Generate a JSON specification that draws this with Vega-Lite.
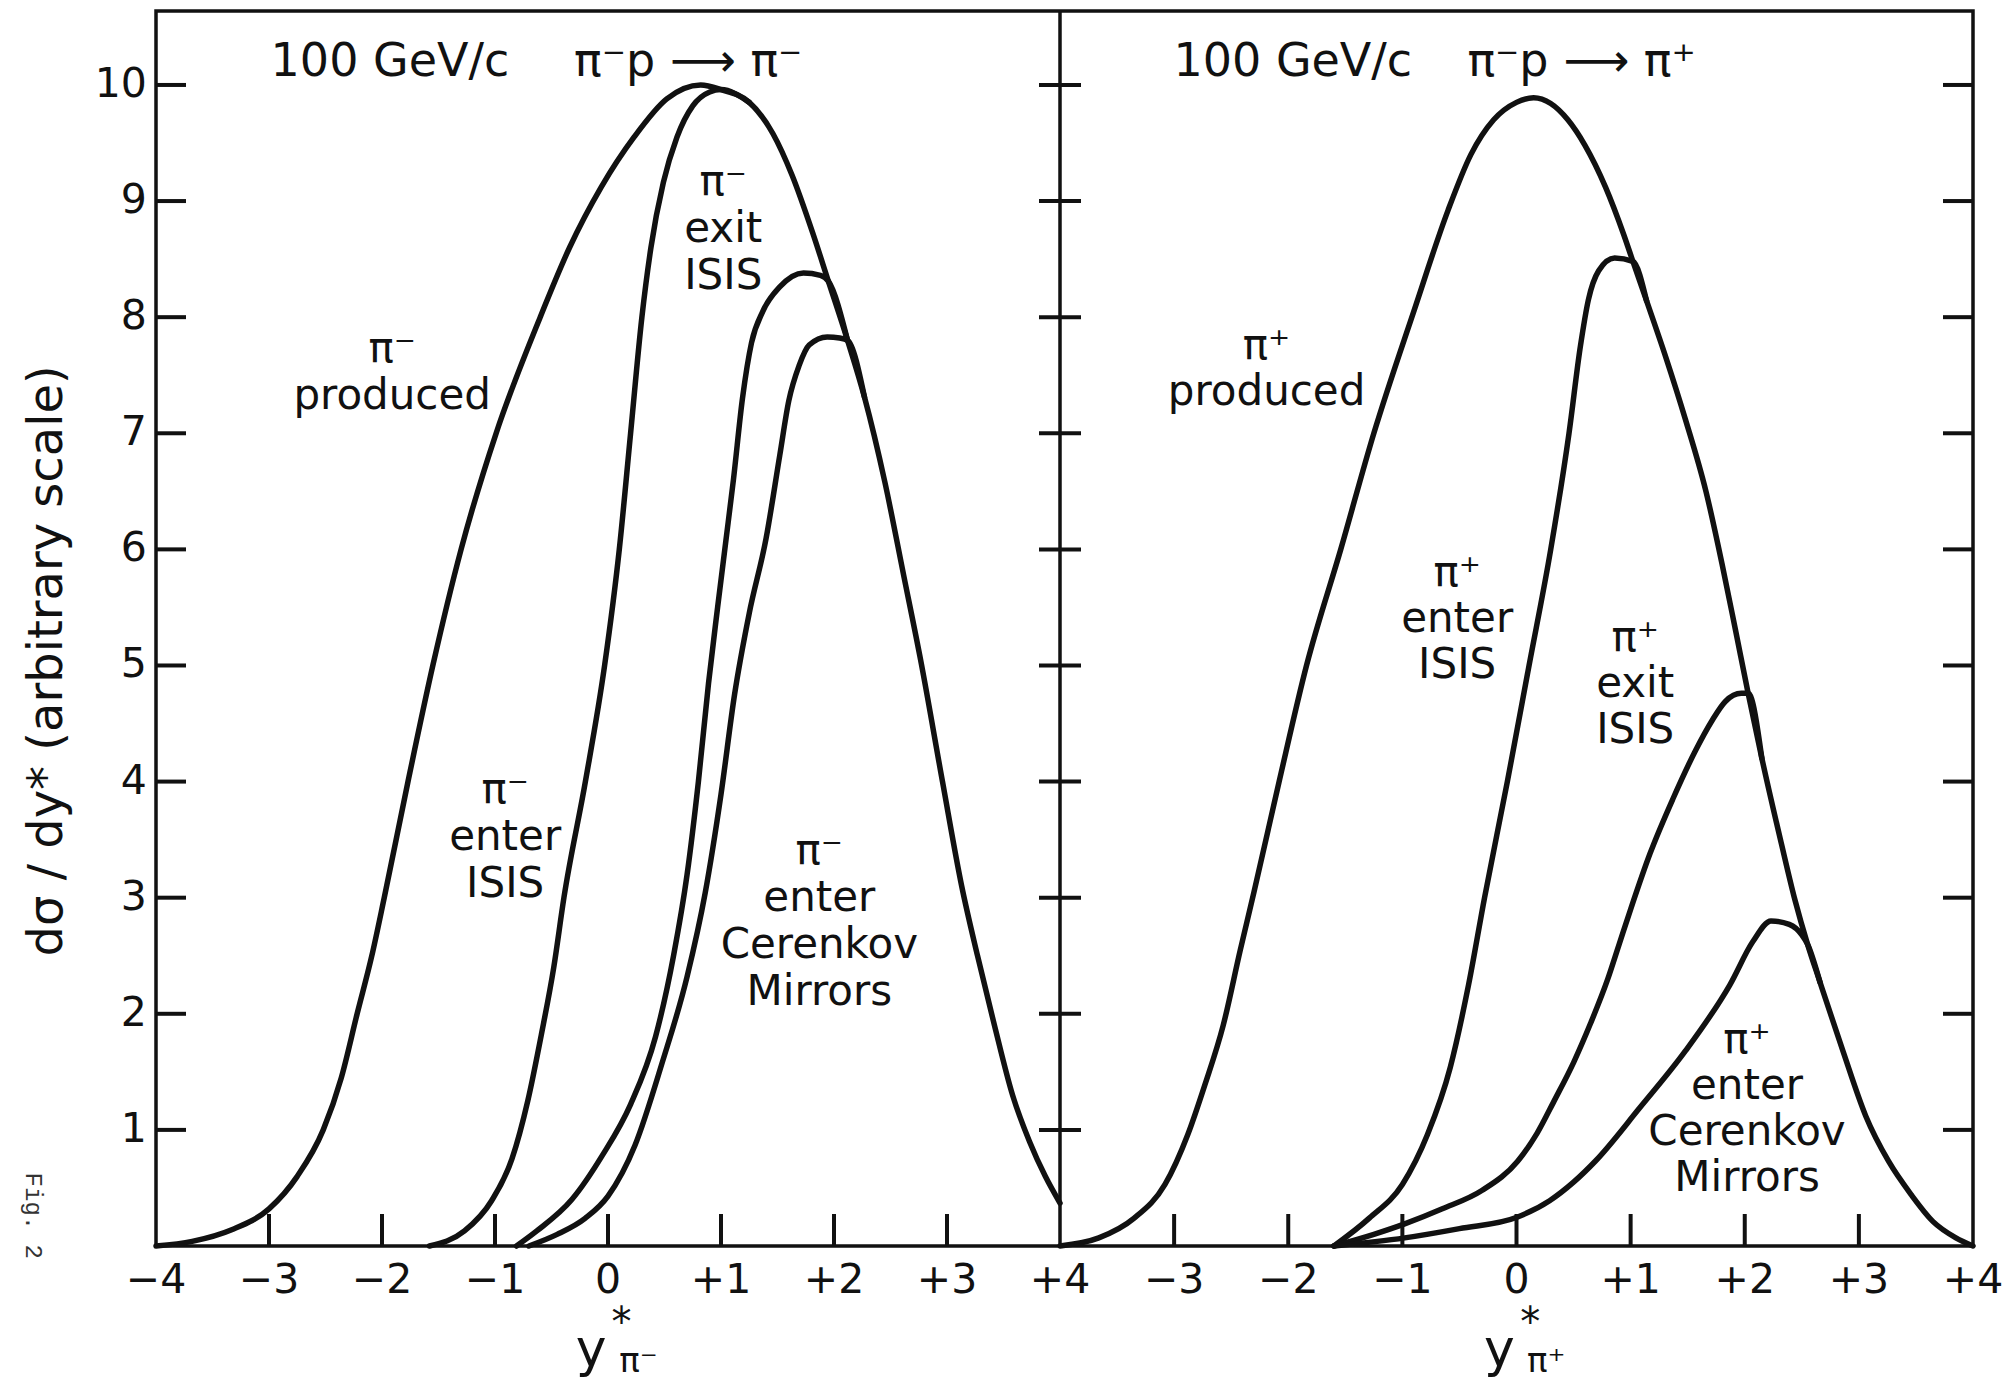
{
  "$schema": "https://vega.github.io/schema/vega-lite/v6.json",
  "width": 1817,
  "height": 1235,
  "autosize": {"type": "none"},
  "padding": {"left": 156, "top": 11, "right": 36, "bottom": 141},
  "background": "white",
  "config": {
    "view": {"stroke": "#111", "strokeWidth": 3.5},
    "text": {"font": "DejaVu Sans", "color": "#111"}
  },
  "datasets": {
    "curvesL": [
      {"curve": "produced", "x": -4.0, "y": 0.0}, {"curve": "produced", "x": -3.68, "y": 0.04}, {"curve": "produced", "x": -3.33, "y": 0.14}, {"curve": "produced", "x": -3.0, "y": 0.32}, {"curve": "produced", "x": -2.75, "y": 0.6}, {"curve": "produced", "x": -2.52, "y": 1.0}, {"curve": "produced", "x": -2.36, "y": 1.45}, {"curve": "produced", "x": -2.22, "y": 2.0}, {"curve": "produced", "x": -2.09, "y": 2.5}, {"curve": "produced", "x": -1.98, "y": 3.0}, {"curve": "produced", "x": -1.77, "y": 4.0}, {"curve": "produced", "x": -1.55, "y": 5.0}, {"curve": "produced", "x": -1.3, "y": 6.0}, {"curve": "produced", "x": -0.99, "y": 7.0}, {"curve": "produced", "x": -0.6, "y": 8.0}, {"curve": "produced", "x": -0.34, "y": 8.6}, {"curve": "produced", "x": -0.06, "y": 9.12}, {"curve": "produced", "x": 0.23, "y": 9.55}, {"curve": "produced", "x": 0.52, "y": 9.88}, {"curve": "produced", "x": 0.82, "y": 10.0}, {"curve": "produced", "x": 1.0, "y": 9.96}, {"curve": "produced", "x": 1.25, "y": 9.85}, {"curve": "produced", "x": 1.46, "y": 9.58}, {"curve": "produced", "x": 1.63, "y": 9.22}, {"curve": "produced", "x": 1.81, "y": 8.73}, {"curve": "produced", "x": 1.95, "y": 8.31}, {"curve": "produced", "x": 2.12, "y": 7.8}, {"curve": "produced", "x": 2.27, "y": 7.31}, {"curve": "produced", "x": 2.45, "y": 6.58}, {"curve": "produced", "x": 2.62, "y": 5.76}, {"curve": "produced", "x": 2.77, "y": 5.03}, {"curve": "produced", "x": 2.96, "y": 4.0}, {"curve": "produced", "x": 3.13, "y": 3.1}, {"curve": "produced", "x": 3.27, "y": 2.5}, {"curve": "produced", "x": 3.42, "y": 1.9}, {"curve": "produced", "x": 3.58, "y": 1.3}, {"curve": "produced", "x": 3.73, "y": 0.9}, {"curve": "produced", "x": 3.87, "y": 0.6}, {"curve": "produced", "x": 4.0, "y": 0.37},
      {"curve": "enterISIS", "x": -1.58, "y": 0.0}, {"curve": "enterISIS", "x": -1.27, "y": 0.13}, {"curve": "enterISIS", "x": -1.03, "y": 0.39}, {"curve": "enterISIS", "x": -0.85, "y": 0.75}, {"curve": "enterISIS", "x": -0.71, "y": 1.25}, {"curve": "enterISIS", "x": -0.59, "y": 1.82}, {"curve": "enterISIS", "x": -0.48, "y": 2.4}, {"curve": "enterISIS", "x": -0.39, "y": 3.0}, {"curve": "enterISIS", "x": -0.2, "y": 4.0}, {"curve": "enterISIS", "x": -0.03, "y": 5.0}, {"curve": "enterISIS", "x": 0.1, "y": 6.0}, {"curve": "enterISIS", "x": 0.2, "y": 7.0}, {"curve": "enterISIS", "x": 0.3, "y": 8.0}, {"curve": "enterISIS", "x": 0.38, "y": 8.6}, {"curve": "enterISIS", "x": 0.49, "y": 9.16}, {"curve": "enterISIS", "x": 0.61, "y": 9.55}, {"curve": "enterISIS", "x": 0.75, "y": 9.82}, {"curve": "enterISIS", "x": 0.9, "y": 9.94}, {"curve": "enterISIS", "x": 1.0, "y": 9.96}, {"curve": "enterISIS", "x": 1.25, "y": 9.85},
      {"curve": "exitISIS", "x": -0.81, "y": 0.0}, {"curve": "exitISIS", "x": -0.63, "y": 0.13}, {"curve": "exitISIS", "x": -0.32, "y": 0.4}, {"curve": "exitISIS", "x": -0.05, "y": 0.78}, {"curve": "exitISIS", "x": 0.2, "y": 1.22}, {"curve": "exitISIS", "x": 0.42, "y": 1.8}, {"curve": "exitISIS", "x": 0.58, "y": 2.5}, {"curve": "exitISIS", "x": 0.7, "y": 3.2}, {"curve": "exitISIS", "x": 0.8, "y": 4.0}, {"curve": "exitISIS", "x": 0.89, "y": 4.85}, {"curve": "exitISIS", "x": 0.97, "y": 5.5}, {"curve": "exitISIS", "x": 1.04, "y": 6.05}, {"curve": "exitISIS", "x": 1.11, "y": 6.6}, {"curve": "exitISIS", "x": 1.19, "y": 7.3}, {"curve": "exitISIS", "x": 1.27, "y": 7.78}, {"curve": "exitISIS", "x": 1.37, "y": 8.05}, {"curve": "exitISIS", "x": 1.52, "y": 8.26}, {"curve": "exitISIS", "x": 1.73, "y": 8.38}, {"curve": "exitISIS", "x": 1.88, "y": 8.36}, {"curve": "exitISIS", "x": 1.95, "y": 8.31}, {"curve": "exitISIS", "x": 2.12, "y": 7.8},
      {"curve": "cerenkov", "x": -0.7, "y": 0.0}, {"curve": "cerenkov", "x": -0.45, "y": 0.1}, {"curve": "cerenkov", "x": -0.2, "y": 0.24}, {"curve": "cerenkov", "x": 0.0, "y": 0.43}, {"curve": "cerenkov", "x": 0.24, "y": 0.87}, {"curve": "cerenkov", "x": 0.48, "y": 1.58}, {"curve": "cerenkov", "x": 0.7, "y": 2.32}, {"curve": "cerenkov", "x": 0.86, "y": 3.04}, {"curve": "cerenkov", "x": 1.0, "y": 3.89}, {"curve": "cerenkov", "x": 1.12, "y": 4.75}, {"curve": "cerenkov", "x": 1.25, "y": 5.45}, {"curve": "cerenkov", "x": 1.4, "y": 6.1}, {"curve": "cerenkov", "x": 1.52, "y": 6.81}, {"curve": "cerenkov", "x": 1.6, "y": 7.28}, {"curve": "cerenkov", "x": 1.69, "y": 7.58}, {"curve": "cerenkov", "x": 1.78, "y": 7.76}, {"curve": "cerenkov", "x": 1.94, "y": 7.83}, {"curve": "cerenkov", "x": 2.05, "y": 7.82}, {"curve": "cerenkov", "x": 2.12, "y": 7.8}, {"curve": "cerenkov", "x": 2.27, "y": 7.31}
    ],
    "curvesR": [
      {"curve": "produced", "x": -4.0, "y": 0.0}, {"curve": "produced", "x": -3.66, "y": 0.07}, {"curve": "produced", "x": -3.35, "y": 0.24}, {"curve": "produced", "x": -3.08, "y": 0.53}, {"curve": "produced", "x": -2.88, "y": 0.96}, {"curve": "produced", "x": -2.73, "y": 1.39}, {"curve": "produced", "x": -2.57, "y": 1.9}, {"curve": "produced", "x": -2.42, "y": 2.55}, {"curve": "produced", "x": -2.3, "y": 3.05}, {"curve": "produced", "x": -2.08, "y": 4.0}, {"curve": "produced", "x": -1.84, "y": 5.0}, {"curve": "produced", "x": -1.54, "y": 6.0}, {"curve": "produced", "x": -1.25, "y": 7.0}, {"curve": "produced", "x": -0.9, "y": 8.05}, {"curve": "produced", "x": -0.6, "y": 8.92}, {"curve": "produced", "x": -0.4, "y": 9.4}, {"curve": "produced", "x": -0.2, "y": 9.7}, {"curve": "produced", "x": 0.0, "y": 9.85}, {"curve": "produced", "x": 0.15, "y": 9.89}, {"curve": "produced", "x": 0.3, "y": 9.84}, {"curve": "produced", "x": 0.45, "y": 9.7}, {"curve": "produced", "x": 0.6, "y": 9.48}, {"curve": "produced", "x": 0.78, "y": 9.12}, {"curve": "produced", "x": 0.94, "y": 8.71}, {"curve": "produced", "x": 1.02, "y": 8.48}, {"curve": "produced", "x": 1.14, "y": 8.14}, {"curve": "produced", "x": 1.31, "y": 7.65}, {"curve": "produced", "x": 1.48, "y": 7.12}, {"curve": "produced", "x": 1.66, "y": 6.5}, {"curve": "produced", "x": 1.8, "y": 5.88}, {"curve": "produced", "x": 1.92, "y": 5.3}, {"curve": "produced", "x": 2.03, "y": 4.76}, {"curve": "produced", "x": 2.15, "y": 4.2}, {"curve": "produced", "x": 2.32, "y": 3.47}, {"curve": "produced", "x": 2.44, "y": 2.98}, {"curve": "produced", "x": 2.55, "y": 2.6}, {"curve": "produced", "x": 2.66, "y": 2.27}, {"curve": "produced", "x": 2.86, "y": 1.68}, {"curve": "produced", "x": 3.06, "y": 1.12}, {"curve": "produced", "x": 3.26, "y": 0.73}, {"curve": "produced", "x": 3.46, "y": 0.44}, {"curve": "produced", "x": 3.65, "y": 0.21}, {"curve": "produced", "x": 3.85, "y": 0.07}, {"curve": "produced", "x": 4.0, "y": 0.0},
      {"curve": "enterISIS", "x": -1.6, "y": 0.0}, {"curve": "enterISIS", "x": -1.29, "y": 0.24}, {"curve": "enterISIS", "x": -1.0, "y": 0.53}, {"curve": "enterISIS", "x": -0.78, "y": 0.96}, {"curve": "enterISIS", "x": -0.58, "y": 1.54}, {"curve": "enterISIS", "x": -0.42, "y": 2.25}, {"curve": "enterISIS", "x": -0.28, "y": 3.0}, {"curve": "enterISIS", "x": -0.08, "y": 4.0}, {"curve": "enterISIS", "x": 0.11, "y": 5.0}, {"curve": "enterISIS", "x": 0.3, "y": 6.0}, {"curve": "enterISIS", "x": 0.46, "y": 7.0}, {"curve": "enterISIS", "x": 0.56, "y": 7.75}, {"curve": "enterISIS", "x": 0.63, "y": 8.15}, {"curve": "enterISIS", "x": 0.72, "y": 8.4}, {"curve": "enterISIS", "x": 0.86, "y": 8.51}, {"curve": "enterISIS", "x": 1.02, "y": 8.48}, {"curve": "enterISIS", "x": 1.14, "y": 8.14},
      {"curve": "exitISIS", "x": -1.6, "y": 0.0}, {"curve": "exitISIS", "x": -1.25, "y": 0.1}, {"curve": "exitISIS", "x": -0.98, "y": 0.19}, {"curve": "exitISIS", "x": -0.65, "y": 0.32}, {"curve": "exitISIS", "x": -0.3, "y": 0.48}, {"curve": "exitISIS", "x": 0.01, "y": 0.73}, {"curve": "exitISIS", "x": 0.18, "y": 0.97}, {"curve": "exitISIS", "x": 0.33, "y": 1.25}, {"curve": "exitISIS", "x": 0.5, "y": 1.58}, {"curve": "exitISIS", "x": 0.65, "y": 1.92}, {"curve": "exitISIS", "x": 0.8, "y": 2.3}, {"curve": "exitISIS", "x": 0.9, "y": 2.6}, {"curve": "exitISIS", "x": 1.0, "y": 2.9}, {"curve": "exitISIS", "x": 1.17, "y": 3.38}, {"curve": "exitISIS", "x": 1.37, "y": 3.85}, {"curve": "exitISIS", "x": 1.57, "y": 4.27}, {"curve": "exitISIS", "x": 1.71, "y": 4.52}, {"curve": "exitISIS", "x": 1.83, "y": 4.69}, {"curve": "exitISIS", "x": 1.97, "y": 4.76}, {"curve": "exitISIS", "x": 2.03, "y": 4.76}, {"curve": "exitISIS", "x": 2.15, "y": 4.2},
      {"curve": "cerenkov", "x": -1.6, "y": 0.0}, {"curve": "cerenkov", "x": -0.98, "y": 0.07}, {"curve": "cerenkov", "x": -0.5, "y": 0.15}, {"curve": "cerenkov", "x": 0.01, "y": 0.25}, {"curve": "cerenkov", "x": 0.29, "y": 0.39}, {"curve": "cerenkov", "x": 0.5, "y": 0.55}, {"curve": "cerenkov", "x": 0.69, "y": 0.73}, {"curve": "cerenkov", "x": 1.08, "y": 1.19}, {"curve": "cerenkov", "x": 1.48, "y": 1.68}, {"curve": "cerenkov", "x": 1.87, "y": 2.25}, {"curve": "cerenkov", "x": 2.07, "y": 2.62}, {"curve": "cerenkov", "x": 2.23, "y": 2.8}, {"curve": "cerenkov", "x": 2.39, "y": 2.77}, {"curve": "cerenkov", "x": 2.5, "y": 2.68}, {"curve": "cerenkov", "x": 2.55, "y": 2.6}, {"curve": "cerenkov", "x": 2.66, "y": 2.27}
    ],
    "yticks": [{"y": 1, "label": "1"}, {"y": 2, "label": "2"}, {"y": 3, "label": "3"}, {"y": 4, "label": "4"}, {"y": 5, "label": "5"}, {"y": 6, "label": "6"}, {"y": 7, "label": "7"}, {"y": 8, "label": "8"}, {"y": 9, "label": "9"}, {"y": 10, "label": "10"}],
    "xticks": [{"x": -3}, {"x": -2}, {"x": -1}, {"x": 0}, {"x": 1}, {"x": 2}, {"x": 3}],
    "xlabL": [{"x": -4, "label": "−4"}, {"x": -3, "label": "−3"}, {"x": -2, "label": "−2"}, {"x": -1, "label": "−1"}, {"x": 0, "label": "0"}, {"x": 1, "label": "+1"}, {"x": 2, "label": "+2"}, {"x": 3, "label": "+3"}, {"x": 4, "label": "+4"}],
    "xlabR": [{"x": -3, "label": "−3"}, {"x": -2, "label": "−2"}, {"x": -1, "label": "−1"}, {"x": 0, "label": "0"}, {"x": 1, "label": "+1"}, {"x": 2, "label": "+2"}, {"x": 3, "label": "+3"}, {"x": 4, "label": "+4"}],
    "one": [{}]
  },
  "layer": [
    {
      "layer": [
        {
          "data": {"name": "curvesL"},
          "mark": {"type": "line", "interpolate": "monotone", "stroke": "#111", "strokeWidth": 5.5, "strokeCap": "round", "strokeJoin": "round"},
          "encoding": {
            "x": {"field": "x", "type": "quantitative", "scale": {"domain": [-4, 4], "range": [0, 904], "nice": false, "zero": false}, "axis": null},
            "y": {"field": "y", "type": "quantitative", "scale": {"domain": [0, 10.637], "nice": false, "zero": false}, "axis": null},
            "detail": {"field": "curve", "type": "nominal"}
          }
        },
        {
          "data": {"name": "one"},
          "mark": {"type": "rule", "stroke": "#111", "strokeWidth": 3.5},
          "encoding": {
            "x": {"datum": 4, "type": "quantitative", "scale": {"domain": [-4, 4], "range": [0, 904], "nice": false, "zero": false}, "axis": null}
          }
        },
        {
          "data": {"name": "yticks"},
          "mark": {"type": "tick", "orient": "horizontal", "size": 30, "thickness": 4, "xOffset": 15, "color": "#111", "opacity": 1},
          "encoding": {
            "x": {"datum": -4, "type": "quantitative", "scale": {"domain": [-4, 4], "range": [0, 904], "nice": false, "zero": false}, "axis": null},
            "y": {"field": "y", "type": "quantitative", "scale": {"domain": [0, 10.637], "nice": false, "zero": false}, "axis": null}
          }
        },
        {
          "data": {"name": "yticks"},
          "mark": {"type": "tick", "orient": "horizontal", "size": 42, "thickness": 4, "color": "#111", "opacity": 1},
          "encoding": {
            "x": {"datum": 4, "type": "quantitative", "scale": {"domain": [-4, 4], "range": [0, 904], "nice": false, "zero": false}, "axis": null},
            "y": {"field": "y", "type": "quantitative", "scale": {"domain": [0, 10.637], "nice": false, "zero": false}, "axis": null}
          }
        },
        {
          "data": {"name": "yticks"},
          "mark": {"type": "text", "align": "right", "baseline": "middle", "fontSize": 41, "font": "DejaVu Sans", "color": "#111"},
          "encoding": {
            "x": {"datum": -4.08, "type": "quantitative", "scale": {"domain": [-4, 4], "range": [0, 904], "nice": false, "zero": false}, "axis": null},
            "y": {"field": "y", "type": "quantitative", "scale": {"domain": [0, 10.637], "nice": false, "zero": false}, "axis": null},
            "text": {"field": "label"}
          }
        },
        {
          "data": {"name": "xticks"},
          "mark": {"type": "tick", "orient": "vertical", "size": 32, "thickness": 4, "yOffset": -16, "color": "#111", "opacity": 1},
          "encoding": {
            "x": {"field": "x", "type": "quantitative", "scale": {"domain": [-4, 4], "range": [0, 904], "nice": false, "zero": false}, "axis": null},
            "y": {"datum": 0, "type": "quantitative", "scale": {"domain": [0, 10.637], "nice": false, "zero": false}, "axis": null}
          }
        },
        {
          "data": {"name": "xlabL"},
          "mark": {"type": "text", "align": "center", "baseline": "middle", "fontSize": 41, "font": "DejaVu Sans", "color": "#111"},
          "encoding": {
            "x": {"field": "x", "type": "quantitative", "scale": {"domain": [-4, 4], "range": [0, 904], "nice": false, "zero": false}, "axis": null},
            "y": {"datum": -0.3, "type": "quantitative", "scale": {"domain": [0, 10.637], "nice": false, "zero": false}, "axis": null},
            "text": {"field": "label"}
          }
        },
        {
          "data": {"values": [{"text": "100 GeV/c", "x": -1.93, "y": 10.2}, {"text": "π⁻p ⟶ π⁻", "x": 0.71, "y": 10.2}]},
          "mark": {"type": "text", "align": "center", "baseline": "middle", "fontSize": 46, "font": "DejaVu Sans", "color": "#111"},
          "encoding": {
            "x": {"field": "x", "type": "quantitative", "scale": {"domain": [-4, 4], "range": [0, 904], "nice": false, "zero": false}, "axis": null},
            "y": {"field": "y", "type": "quantitative", "scale": {"domain": [0, 10.637], "nice": false, "zero": false}, "axis": null},
            "text": {"field": "text"}
          }
        },
        {
          "data": {"values": [
            {"text": "π⁻\nproduced", "x": -1.91, "y": 7.73},
            {"text": "π⁻\nenter\nISIS", "x": -0.91, "y": 3.93},
            {"text": "π⁻\nexit\nISIS", "x": 1.02, "y": 9.16},
            {"text": "π⁻\nenter\nCerenkov\nMirrors", "x": 1.87, "y": 3.4}
          ]},
          "mark": {"type": "text", "align": "center", "baseline": "middle", "fontSize": 42, "lineHeight": 47, "lineBreak": "\n", "font": "DejaVu Sans", "color": "#111"},
          "encoding": {
            "x": {"field": "x", "type": "quantitative", "scale": {"domain": [-4, 4], "range": [0, 904], "nice": false, "zero": false}, "axis": null},
            "y": {"field": "y", "type": "quantitative", "scale": {"domain": [0, 10.637], "nice": false, "zero": false}, "axis": null},
            "text": {"field": "text"}
          }
        },
        {
          "data": {"values": [{"text": "y", "x": -0.15, "y": -0.9}]},
          "mark": {"type": "text", "align": "center", "baseline": "middle", "fontSize": 52, "font": "DejaVu Sans", "color": "#111"},
          "encoding": {
            "x": {"field": "x", "type": "quantitative", "scale": {"domain": [-4, 4], "range": [0, 904], "nice": false, "zero": false}, "axis": null},
            "y": {"field": "y", "type": "quantitative", "scale": {"domain": [0, 10.637], "nice": false, "zero": false}, "axis": null},
            "text": {"field": "text"}
          }
        },
        {
          "data": {"values": [{"text": "*", "x": 0.12, "y": -0.672}]},
          "mark": {"type": "text", "align": "center", "baseline": "middle", "fontSize": 40, "font": "DejaVu Sans", "color": "#111"},
          "encoding": {
            "x": {"field": "x", "type": "quantitative", "scale": {"domain": [-4, 4], "range": [0, 904], "nice": false, "zero": false}, "axis": null},
            "y": {"field": "y", "type": "quantitative", "scale": {"domain": [0, 10.637], "nice": false, "zero": false}, "axis": null},
            "text": {"field": "text"}
          }
        },
        {
          "data": {"values": [{"text": "π⁻", "x": 0.27, "y": -0.999}]},
          "mark": {"type": "text", "align": "center", "baseline": "middle", "fontSize": 34, "font": "DejaVu Sans", "color": "#111"},
          "encoding": {
            "x": {"field": "x", "type": "quantitative", "scale": {"domain": [-4, 4], "range": [0, 904], "nice": false, "zero": false}, "axis": null},
            "y": {"field": "y", "type": "quantitative", "scale": {"domain": [0, 10.637], "nice": false, "zero": false}, "axis": null},
            "text": {"field": "text"}
          }
        },
        {
          "data": {"values": [{"text": "dσ / dy* (arbitrary scale)", "x": -4.96, "y": 5.04}]},
          "mark": {"type": "text", "align": "center", "baseline": "middle", "angle": 270, "fontSize": 48, "font": "DejaVu Sans", "color": "#111"},
          "encoding": {
            "x": {"field": "x", "type": "quantitative", "scale": {"domain": [-4, 4], "range": [0, 904], "nice": false, "zero": false}, "axis": null},
            "y": {"field": "y", "type": "quantitative", "scale": {"domain": [0, 10.637], "nice": false, "zero": false}, "axis": null},
            "text": {"field": "text"}
          }
        },
        {
          "data": {"values": [{"text": "Fig. 2", "x": -5.09, "y": 0.26}]},
          "mark": {"type": "text", "align": "center", "baseline": "middle", "angle": 90, "fontSize": 24, "font": "Liberation Mono", "color": "#333"},
          "encoding": {
            "x": {"field": "x", "type": "quantitative", "scale": {"domain": [-4, 4], "range": [0, 904], "nice": false, "zero": false}, "axis": null},
            "y": {"field": "y", "type": "quantitative", "scale": {"domain": [0, 10.637], "nice": false, "zero": false}, "axis": null},
            "text": {"field": "text"}
          }
        }
      ]
    },
    {
      "layer": [
        {
          "data": {"name": "curvesR"},
          "mark": {"type": "line", "interpolate": "monotone", "stroke": "#111", "strokeWidth": 5.5, "strokeCap": "round", "strokeJoin": "round"},
          "encoding": {
            "x": {"field": "x", "type": "quantitative", "scale": {"domain": [-4, 4], "range": [904, 1817], "nice": false, "zero": false}, "axis": null},
            "y": {"field": "y", "type": "quantitative", "scale": {"domain": [0, 10.637], "nice": false, "zero": false}, "axis": null},
            "detail": {"field": "curve", "type": "nominal"}
          }
        },
        {
          "data": {"name": "yticks"},
          "mark": {"type": "tick", "orient": "horizontal", "size": 30, "thickness": 4, "xOffset": -15, "color": "#111", "opacity": 1},
          "encoding": {
            "x": {"datum": 4, "type": "quantitative", "scale": {"domain": [-4, 4], "range": [904, 1817], "nice": false, "zero": false}, "axis": null},
            "y": {"field": "y", "type": "quantitative", "scale": {"domain": [0, 10.637], "nice": false, "zero": false}, "axis": null}
          }
        },
        {
          "data": {"name": "xticks"},
          "mark": {"type": "tick", "orient": "vertical", "size": 32, "thickness": 4, "yOffset": -16, "color": "#111", "opacity": 1},
          "encoding": {
            "x": {"field": "x", "type": "quantitative", "scale": {"domain": [-4, 4], "range": [904, 1817], "nice": false, "zero": false}, "axis": null},
            "y": {"datum": 0, "type": "quantitative", "scale": {"domain": [0, 10.637], "nice": false, "zero": false}, "axis": null}
          }
        },
        {
          "data": {"name": "xlabR"},
          "mark": {"type": "text", "align": "center", "baseline": "middle", "fontSize": 41, "font": "DejaVu Sans", "color": "#111"},
          "encoding": {
            "x": {"field": "x", "type": "quantitative", "scale": {"domain": [-4, 4], "range": [904, 1817], "nice": false, "zero": false}, "axis": null},
            "y": {"datum": -0.3, "type": "quantitative", "scale": {"domain": [0, 10.637], "nice": false, "zero": false}, "axis": null},
            "text": {"field": "label"}
          }
        },
        {
          "data": {"values": [{"text": "100 GeV/c", "x": -1.96, "y": 10.2}, {"text": "π⁻p ⟶ π⁺", "x": 0.57, "y": 10.2}]},
          "mark": {"type": "text", "align": "center", "baseline": "middle", "fontSize": 46, "font": "DejaVu Sans", "color": "#111"},
          "encoding": {
            "x": {"field": "x", "type": "quantitative", "scale": {"domain": [-4, 4], "range": [904, 1817], "nice": false, "zero": false}, "axis": null},
            "y": {"field": "y", "type": "quantitative", "scale": {"domain": [0, 10.637], "nice": false, "zero": false}, "axis": null},
            "text": {"field": "text"}
          }
        },
        {
          "data": {"values": [
            {"text": "π⁺\nproduced", "x": -2.19, "y": 7.75},
            {"text": "π⁺\nenter\nISIS", "x": -0.52, "y": 5.8},
            {"text": "π⁺\nexit\nISIS", "x": 1.04, "y": 5.24},
            {"text": "π⁺\nenter\nCerenkov\nMirrors", "x": 2.02, "y": 1.77}
          ]},
          "mark": {"type": "text", "align": "center", "baseline": "middle", "fontSize": 42, "lineHeight": 46, "lineBreak": "\n", "font": "DejaVu Sans", "color": "#111"},
          "encoding": {
            "x": {"field": "x", "type": "quantitative", "scale": {"domain": [-4, 4], "range": [904, 1817], "nice": false, "zero": false}, "axis": null},
            "y": {"field": "y", "type": "quantitative", "scale": {"domain": [0, 10.637], "nice": false, "zero": false}, "axis": null},
            "text": {"field": "text"}
          }
        },
        {
          "data": {"values": [{"text": "y", "x": -0.15, "y": -0.9}]},
          "mark": {"type": "text", "align": "center", "baseline": "middle", "fontSize": 52, "font": "DejaVu Sans", "color": "#111"},
          "encoding": {
            "x": {"field": "x", "type": "quantitative", "scale": {"domain": [-4, 4], "range": [904, 1817], "nice": false, "zero": false}, "axis": null},
            "y": {"field": "y", "type": "quantitative", "scale": {"domain": [0, 10.637], "nice": false, "zero": false}, "axis": null},
            "text": {"field": "text"}
          }
        },
        {
          "data": {"values": [{"text": "*", "x": 0.12, "y": -0.672}]},
          "mark": {"type": "text", "align": "center", "baseline": "middle", "fontSize": 40, "font": "DejaVu Sans", "color": "#111"},
          "encoding": {
            "x": {"field": "x", "type": "quantitative", "scale": {"domain": [-4, 4], "range": [904, 1817], "nice": false, "zero": false}, "axis": null},
            "y": {"field": "y", "type": "quantitative", "scale": {"domain": [0, 10.637], "nice": false, "zero": false}, "axis": null},
            "text": {"field": "text"}
          }
        },
        {
          "data": {"values": [{"text": "π⁺", "x": 0.26, "y": -0.999}]},
          "mark": {"type": "text", "align": "center", "baseline": "middle", "fontSize": 34, "font": "DejaVu Sans", "color": "#111"},
          "encoding": {
            "x": {"field": "x", "type": "quantitative", "scale": {"domain": [-4, 4], "range": [904, 1817], "nice": false, "zero": false}, "axis": null},
            "y": {"field": "y", "type": "quantitative", "scale": {"domain": [0, 10.637], "nice": false, "zero": false}, "axis": null},
            "text": {"field": "text"}
          }
        }
      ]
    }
  ],
  "resolve": {"scale": {"x": "independent"}, "axis": {"x": "independent"}}
}
